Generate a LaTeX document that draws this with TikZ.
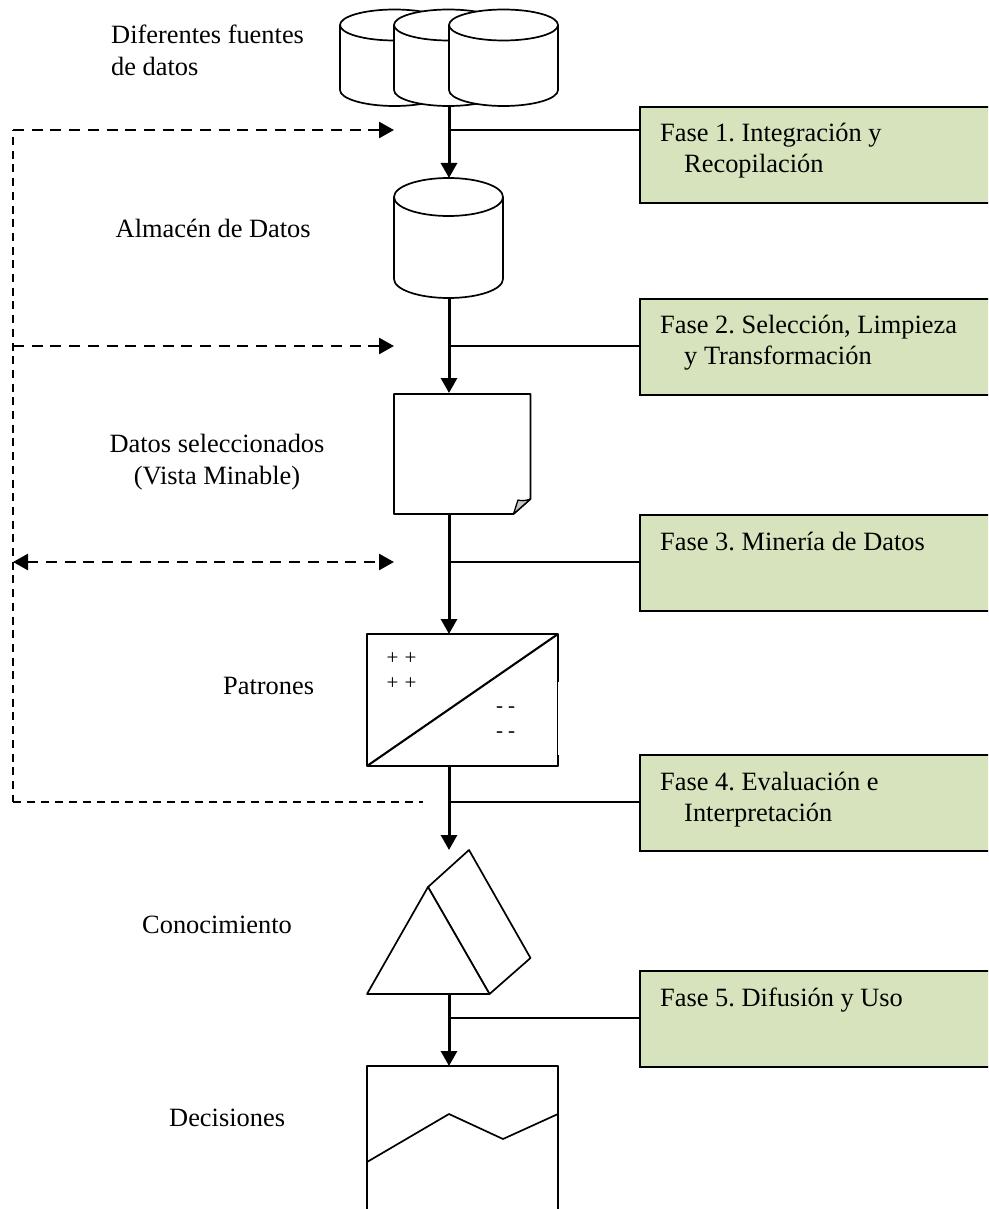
\documentclass[tikz,border=0pt]{standalone}
\usepackage{fontspec}
\setmainfont{Liberation Serif}
\usetikzlibrary{arrows.meta}
\definecolor{phasegreen}{HTML}{D6E3BC}
\tikzset{x=1pt,y=-1pt,
 outline/.style={draw=black,line width=1.7pt,fill=white,line join=round},
 flow/.style={draw=black,line width=3pt,-{Triangle[length=15pt,width=16pt]}},
 tie/.style={draw=black,line width=1.7pt},
 back/.style={draw=black,line width=2.7pt,dash pattern=on 11pt off 7.7pt},
 backtip/.style={back,-{Triangle[length=15pt,width=16pt]}},
 backboth/.style={back,{Triangle[length=15pt,width=16pt]}-{Triangle[length=15pt,width=16pt]}},
 vdash/.style={draw=black,line width=2pt,dash pattern=on 8pt off 5.7pt,dash phase=6.7pt},
 hdash/.style={draw=black,line width=1.8pt,dash pattern=on 8pt off 6pt},
 phase/.style={draw=black,line width=1.8pt,fill=phasegreen,minimum width=352pt,minimum height=96pt,anchor=north west,inner sep=0pt},
 txt/.style={font=\fontsize{26.4pt}{30pt}\selectfont\frenchspacing,inner sep=0pt,anchor=base west},
 mid/.style={font=\fontsize{26.4pt}{30pt}\selectfont\frenchspacing,inner sep=0pt,anchor=base},
 sign/.style={font=\fontsize{21pt}{24pt}\selectfont,inner sep=0pt,anchor=base},
 anchorbox/.style={inner sep=0pt,outer sep=0pt,anchor=north west}}
\begin{document}
\begin{tikzpicture}
\useasboundingbox (0,0) rectangle (988,1209);
\clip (0,0) rectangle (988,1209);
\fill[white] (0,0) rectangle (988,1209);

% --- sources
\path[outline] (340,25) -- (340,90) arc[start angle=180,end angle=360,x radius=54.5,y radius=-16] -- (449,25) arc[start angle=0,end angle=180,x radius=54.5,y radius=-15.5] -- cycle;
\draw[outline,fill=none] (340,25) arc[start angle=180,end angle=360,x radius=54.5,y radius=-15.5];
\path[outline] (394,25) -- (394,90) arc[start angle=180,end angle=360,x radius=54.5,y radius=-16] -- (503,25) arc[start angle=0,end angle=180,x radius=54.5,y radius=-15.5] -- cycle;
\draw[outline,fill=none] (394,25) arc[start angle=180,end angle=360,x radius=54.5,y radius=-15.5];
\path[outline] (449,25) -- (449,90) arc[start angle=180,end angle=360,x radius=54.5,y radius=-16] -- (558,25) arc[start angle=0,end angle=180,x radius=54.5,y radius=-15.5] -- cycle;
\draw[outline,fill=none] (449,25) arc[start angle=180,end angle=360,x radius=54.5,y radius=-15.5];
\node[anchorbox,minimum width=218pt,minimum height=96pt] (sources) at (340,10) {};

% --- warehouse
\path[outline] (394,197) -- (394,279) arc[start angle=180,end angle=360,x radius=54.5,y radius=-19] -- (503,197) arc[start angle=0,end angle=180,x radius=54.5,y radius=-19] -- cycle;
\draw[outline,fill=none] (394,197) arc[start angle=180,end angle=360,x radius=54.5,y radius=-19];
\node[anchorbox,minimum width=109pt,minimum height=120pt] (store) at (394,178) {};

% --- selected data (note with curled corner)
\node[anchorbox,minimum width=136pt,minimum height=120pt] (note) at (394,394) {};
\path[outline] (394,394) -- (530.5,394) -- (530.5,499) -- (513.5,514) -- (394,514) -- cycle;
\path[draw=black,line width=1.3pt,fill=black!22,line join=round] (513.5,514) -- (518,500) .. controls (521,501) and (525,501) .. (530.5,499) -- cycle;

% --- patterns
\node[anchorbox,minimum width=191pt,minimum height=132pt] (patterns) at (367,634) {};
\path[outline,line width=2pt] (367,634) rectangle (558,766);
\draw[white,line width=1.4pt] (558.8,682) -- (558.8,755);
\draw[black,line width=2.1pt] (367,766) -- (558,634);
\node[sign] (pa) at (392.5,664) {+};
\node[sign] (pb) at (410.5,664) {+};
\node[sign] (pc) at (392.5,689) {+};
\node[sign] (pd) at (410.5,689) {+};
\node[sign] (ma) at (499.5,712) {-};
\node[sign] (mb) at (511.5,712) {-};
\node[sign] (mc) at (499.5,737) {-};
\node[sign] (md) at (511.5,737) {-};

% --- knowledge prism
\node[anchorbox,minimum width=163pt,minimum height=144pt] (prism) at (367,850) {};
\path[outline] (428,887) -- (469,850) -- (530.5,958) -- (489.5,994) -- cycle;
\path[outline] (367,994) -- (428,887) -- (489.5,994) -- cycle;

% --- decisions (runs off the bottom of the page)
\node[anchorbox,minimum width=191pt,minimum height=143pt] (decide) at (367,1066) {};
\path[outline] (367,1212) -- (367,1066) -- (558,1066) -- (558,1212);
\draw[outline,fill=none] (367,1162) -- (449,1114) -- (503,1139) -- (558,1114);

% --- phase boxes
\node[phase] (p1) at (639,106) {};
\node[phase] (p2) at (639,298) {};
\node[phase] (p3) at (639,514) {};
\node[phase] (p4) at (639,754) {};
\node[phase] (p5) at (639,970) {};

% --- junctions
\coordinate (j1) at (449,130); \coordinate (e1) at (639,130);
\coordinate (j2) at (449,346); \coordinate (e2) at (639,346);
\coordinate (j3) at (449,562); \coordinate (e3) at (639,562);
\coordinate (j4) at (449,802); \coordinate (e4) at (639,802);
\coordinate (j5) at (449,1018); \coordinate (e5) at (639,1018);
\foreach \i in {1,...,5} \draw[tie] (j\i) -- (e\i);

% --- main flow
\coordinate (s1) at (449,106);
\coordinate (t1) at (449,178);
\coordinate (s2) at (449,298);
\coordinate (t2) at (449,393);
\coordinate (s3) at (449,514);
\coordinate (t3) at (449,634);
\coordinate (s4) at (449,766);
\coordinate (t4) at (449,850);
\coordinate (s5) at (449,994);
\coordinate (t5) at (449,1066);
\foreach \i in {1,...,5} \draw[flow] (s\i) -- (t\i);

% --- feedback
\coordinate (lt) at (13,130);
\coordinate (lm) at (13,346);
\coordinate (lb) at (13,562);
\coordinate (lz) at (13,802);
\coordinate (a1) at (394,130);
\coordinate (a2) at (394,346);
\coordinate (a3) at (394,562);
\coordinate (a4) at (423,802);
\draw[vdash] (lt) -- (lz);
\draw[backtip] (lt) -- (a1);
\draw[backtip] (lm) -- (a2);
\draw[backboth] (lb) -- (a3);
\draw[hdash] (lz) -- (a4);

% --- left labels
\node[txt] (l1a) at (111,44) {Diferentes fuentes};
\node[txt] (l1b) at (111,76) {de datos};
\node[txt] (l2) at (115.5,237.5) {Almacén de Datos};
\node[mid] (l3a) at (217,452) {Datos seleccionados};
\node[mid] (l3b) at (217,484) {(Vista Minable)};
\node[txt] (l4) at (223,694) {Patrones};
\node[txt] (l5) at (142,933) {Conocimiento};
\node[txt] (l6) at (169,1126) {Decisiones};

% --- phase labels
\node[txt] (f1a) at (660,141.5) {Fase 1. Integración y};
\node[txt] (f1b) at (684,172.5) {Recopilación};
\node[txt] (f2a) at (660,333.5) {Fase 2. Selección, Limpieza};
\node[txt] (f2b) at (684,364.5) {y Transformación};
\node[txt] (f3) at (660,550) {Fase 3. Minería de Datos};
\node[txt] (f4a) at (660,790) {Fase 4. Evaluación e};
\node[txt] (f4b) at (684,821) {Interpretación};
\node[txt] (f5) at (660,1006) {Fase 5. Difusión y Uso};
\end{tikzpicture}
\end{document}
